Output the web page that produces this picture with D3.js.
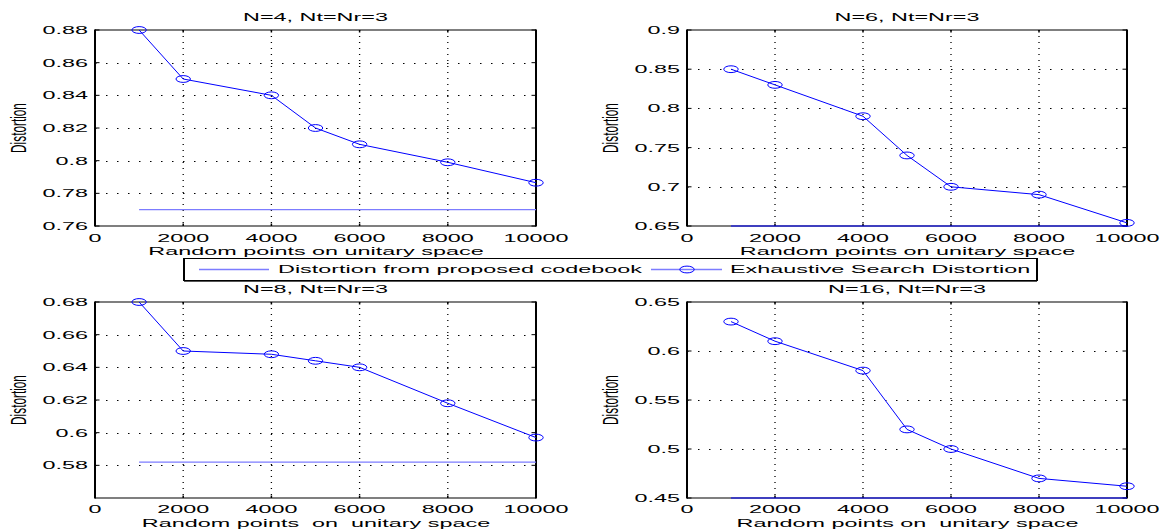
<!DOCTYPE html>
<html><head><meta charset="utf-8">
<script src="https://cdn.jsdelivr.net/npm/d3@7"></script>
<style>body{margin:0;background:#fff}svg{display:block}text{font-family:"Liberation Sans",Arial,sans-serif;fill:#000}</style>
</head><body>
<svg id="c" width="1163" height="531"></svg>
<script>
// ---- data ----
const samplePoints = [1000, 2000, 4000, 5000, 6000, 8000, 10000];
const xTicks = [0, 2000, 4000, 6000, 8000, 10000];
const titles = ["N=4, Nt=Nr=3", "N=6, Nt=Nr=3", "N=8, Nt=Nr=3", "N=16, Nt=Nr=3"];
const xLabels = ["Random points on unitary space", "Random points on unitary space",
                 "Random points  on  unitary space", "Random points on  unitary space"];
const exhaustiveN4  = [0.88, 0.85, 0.84, 0.82, 0.81, 0.799, 0.7865];
const exhaustiveN6  = [0.85, 0.83, 0.79, 0.74, 0.70, 0.69, 0.654];
const exhaustiveN8  = [0.68, 0.65, 0.648, 0.644, 0.64, 0.618, 0.597];
const exhaustiveN16 = [0.63, 0.61, 0.58, 0.52, 0.50, 0.47, 0.462];
const proposed = [0.77, 0.65, 0.582, 0.45];
const yDomains = [[0.76, 0.88], [0.65, 0.9], [0.56, 0.68], [0.45, 0.65]];
const yTickVals = [
  [0.76, 0.78, 0.8, 0.82, 0.84, 0.86, 0.88],
  [0.65, 0.7, 0.75, 0.8, 0.85, 0.9],
  [0.58, 0.6, 0.62, 0.64, 0.66, 0.68],
  [0.45, 0.5, 0.55, 0.6, 0.65]
];
const legendLabels = ["Distortion from proposed codebook", "Exhaustive Search Distortion"];
const seriesList = [exhaustiveN4, exhaustiveN6, exhaustiveN8, exhaustiveN16];

// ---- layout ----
const svg = d3.select("#c");
const FS = 11.3, SX = 2.07;
const boxes = [
  {x0: 95, x1: 536, y0: 30, y1: 226, titleY: 21, tickY: 242, labY: 255},
  {x0: 687, x1: 1127, y0: 30, y1: 226, titleY: 21, tickY: 242, labY: 255},
  {x0: 95, x1: 536, y0: 302, y1: 498, titleY: 293, tickY: 513, labY: 527},
  {x0: 687, x1: 1127, y0: 302, y1: 498, titleY: 293, tickY: 513, labY: 527}
];
const BLUE = "#0000ff", PROP = "#7c7cff";

function stext(g, x, y, str, anchor, base) {
  return g.append("text")
    .attr("transform", `translate(${x},${y}) scale(${SX},1)`)
    .attr("text-anchor", anchor || "middle")
    .attr("dominant-baseline", base || "auto")
    .attr("font-size", FS)
    .style("white-space", "pre")
    .text(str);
}

boxes.forEach((b, i) => {
  const g = svg.append("g");
  const x = d3.scaleLinear().domain([0, 10000]).range([b.x0, b.x1]);
  const y = d3.scaleLinear().domain(yDomains[i]).range([b.y1, b.y0]);

  // grid
  xTicks.slice(1, -1).forEach(t => {
    g.append("line").attr("x1", x(t)).attr("x2", x(t)).attr("y1", b.y0).attr("y2", b.y1)
      .attr("stroke", "#000").attr("stroke-width", 1.3).attr("stroke-dasharray", "1,5");
  });
  yTickVals[i].forEach(t => {
    const yy = Math.round(y(t)) + 0.5;
    if (Math.abs(yy - b.y0) < 2 || Math.abs(yy - b.y1) < 2) return;
    g.append("line").attr("x1", b.x0).attr("x2", b.x1).attr("y1", yy).attr("y2", yy)
      .attr("stroke", "#000").attr("stroke-width", 1).attr("stroke-dasharray", "1.5,9.5");
  });

  // ticks (inward, all sides)
  xTicks.forEach(t => {
    g.append("line").attr("x1", x(t)).attr("x2", x(t)).attr("y1", b.y1).attr("y2", b.y1 - 2.5).attr("stroke", "#000").attr("stroke-width", 1.5);
    g.append("line").attr("x1", x(t)).attr("x2", x(t)).attr("y1", b.y0).attr("y2", b.y0 + 2.5).attr("stroke", "#000").attr("stroke-width", 1.5);
    stext(g, x(t), b.tickY, String(t), "middle");
  });
  yTickVals[i].forEach(t => {
    g.append("line").attr("x1", b.x0).attr("x2", b.x0 + 4.5).attr("y1", y(t)).attr("y2", y(t)).attr("stroke", "#000");
    g.append("line").attr("x1", b.x1).attr("x2", b.x1 - 4.5).attr("y1", y(t)).attr("y2", y(t)).attr("stroke", "#000");
    stext(g, b.x0 - 7, y(t) + 4, String(+t.toFixed(2)), "end");
  });

  // box
  g.append("line").attr("x1", b.x0).attr("x2", b.x1).attr("y1", b.y0).attr("y2", b.y0).attr("stroke", "#000").attr("stroke-width", 1.2);
  g.append("line").attr("x1", b.x0).attr("x2", b.x1).attr("y1", b.y1).attr("y2", b.y1).attr("stroke", "#000").attr("stroke-width", 1.2);
  g.append("line").attr("x1", b.x0).attr("x2", b.x0).attr("y1", b.y0 - 0.6).attr("y2", b.y1 + 0.6).attr("stroke", "#000").attr("stroke-width", 2);
  g.append("line").attr("x1", b.x1).attr("x2", b.x1).attr("y1", b.y0 - 0.6).attr("y2", b.y1 + 0.6).attr("stroke", "#000").attr("stroke-width", 2);

  // proposed codebook line
  g.append("line").attr("x1", x(samplePoints[0])).attr("x2", x(samplePoints[samplePoints.length - 1]))
    .attr("y1", y(proposed[i])).attr("y2", y(proposed[i])).attr("stroke", i % 2 ? BLUE : PROP).attr("stroke-width", 1.2);

  // exhaustive line + markers
  const pts = samplePoints.map((s, k) => [s, seriesList[i][k]]);
  g.append("path").attr("d", d3.line().x(d => x(d[0])).y(d => y(d[1]))(pts))
    .attr("fill", "none").attr("stroke", BLUE).attr("stroke-width", 1);
  g.selectAll("ellipse.m").data(pts).join("ellipse")
    .attr("cx", d => x(d[0])).attr("cy", d => y(d[1])).attr("rx", 7.2).attr("ry", 3.4)
    .attr("fill", "none").attr("stroke", BLUE).attr("stroke-width", 1);

  // labels
  stext(g, (b.x0 + b.x1) / 2, b.titleY, titles[i], "middle");
  stext(g, (b.x0 + b.x1) / 2 + 0.5, b.labY, xLabels[i], "middle");
  g.append("text")
    .attr("transform", `translate(${b.x0 - 69},${(b.y0 + b.y1) / 2}) rotate(-90) scale(1,1.8)`)
    .attr("text-anchor", "middle").attr("font-size", 11.8).text("Distortion");
});

// ---- legend ----
const lg = svg.append("g");
const L = {x0: 184, x1: 1037, y0: 258, y1: 280};
lg.append("rect").attr("x", L.x0).attr("y", L.y0 + 0.5).attr("width", L.x1 - L.x0).attr("height", L.y1 - L.y0)
  .attr("fill", "#fff").attr("stroke", "#000").attr("stroke-width", 1);
lg.append("line").attr("x1", L.x0).attr("x2", L.x0).attr("y1", L.y0).attr("y2", L.y1 + 1).attr("stroke", "#000").attr("stroke-width", 2);
lg.append("line").attr("x1", L.x1).attr("x2", L.x1).attr("y1", L.y0).attr("y2", L.y1 + 1).attr("stroke", "#000").attr("stroke-width", 2);
lg.append("line").attr("x1", L.x0).attr("x2", L.x1).attr("y1", L.y1 + 1.5).attr("y2", L.y1 + 1.5).attr("stroke", "#555").attr("stroke-width", 1);
const ly = (L.y0 + L.y1) / 2 + 0.5;
lg.append("line").attr("x1", 199).attr("x2", 269).attr("y1", ly).attr("y2", ly).attr("stroke", PROP).attr("stroke-width", 1.3);
stext(lg, 278, 273, legendLabels[0], "start");
lg.append("line").attr("x1", 651).attr("x2", 722).attr("y1", ly).attr("y2", ly).attr("stroke", PROP).attr("stroke-width", 1.3);
lg.append("ellipse").attr("cx", 687).attr("cy", ly).attr("rx", 7.2).attr("ry", 3.4).attr("fill", "none").attr("stroke", BLUE);
stext(lg, 730, 273, legendLabels[1], "start");
</script>
</body></html>
